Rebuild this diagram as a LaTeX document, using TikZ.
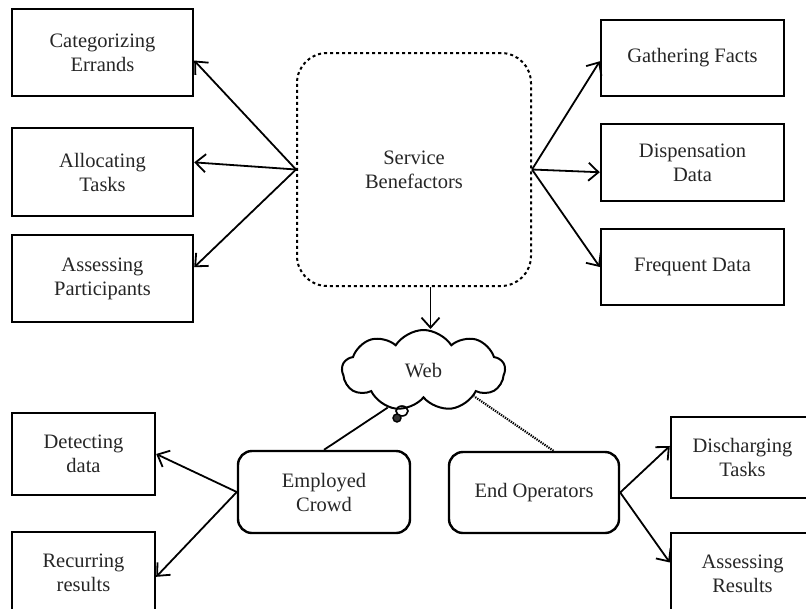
\documentclass[tikz,border=0pt]{standalone}
\usepackage{fontspec}
\setmainfont{Liberation Serif}
\usetikzlibrary{shapes.symbols,arrows.meta}
\tikzset{
  lbl/.style={font=\fontsize{20.5}{24}\selectfont, text=black!85, align=center},
  box/.style={lbl, draw, line width=2.4pt, inner sep=0pt},
  rbox/.style={box, rounded corners=14pt},
  arr/.style={-{Straight Barb[length=10pt,width=18pt]}, line width=1.8pt},
  link/.style={line width=1.8pt}
}
\begin{document}
\begin{tikzpicture}[x=1pt, y=-1pt]
\useasboundingbox (0,0) rectangle (806,608);
\clip (0,0) rectangle (806,608);
% left column
\node[box, minimum width=181pt, minimum height=87pt] (cat) at (102.5,52.5) {Categorizing\\Errands};
\node[box, minimum width=181pt, minimum height=88pt] (alloc) at (102.5,172) {Allocating\\Tasks};
\node[box, minimum width=181pt, minimum height=87pt] (assessp) at (102.5,278.5) {Assessing\\Participants};
% right column
\node[box, minimum width=183pt, minimum height=76pt] (gather) at (692.5,58) {Gathering Facts};
\node[box, minimum width=183pt, minimum height=77pt] (disp) at (692.5,162.5) {Dispensation\\Data};
\node[box, minimum width=183pt, minimum height=76pt] (freq) at (692.5,267) {Frequent Data};
% centre
\node[box, dashed, line width=2pt, rounded corners=30pt, minimum width=234pt, minimum height=233pt] (serv) at (414,169.5) {Service\\Benefactors};
\node[lbl, cloud, draw, line width=2pt, cloud puffs=9, cloud puff arc=115, aspect=2, minimum width=163pt, minimum height=81pt, inner sep=0pt] (web) at (423.5,370.5) {Web};
% lower row
\node[rbox, minimum width=172pt, minimum height=82pt] (crowd) at (324,492) {Employed\\Crowd};
\node[rbox, minimum width=170pt, minimum height=81pt] (endop) at (534,492.5) {End Operators};
\node[box, minimum width=143pt, minimum height=82pt] (detect) at (83.5,454) {Detecting\\data};
\node[box, minimum width=143pt, minimum height=82pt] (recur) at (83.5,573) {Recurring\\results};
\node[box, minimum width=143pt, minimum height=81pt] (disch) at (742.5,457.5) {Discharging\\Tasks};
\node[box, minimum width=143pt, minimum height=82pt] (assessr) at (742.5,574) {Assessing\\Results};
% thought bubble
\draw[line width=1.6pt] (402,411) ellipse (6pt and 5pt);
\draw[line width=1.4pt, fill=black!80] (397,418) circle (4pt);
% connectors
\draw[arr] (serv.west) -- (cat.-5);
\draw[arr] (serv.west) -- (alloc.6);
\draw[arr] (serv.west) -- (assessp.7);
\draw[arr] (serv.east) -- (gather.182);
\draw[arr] (serv.east) -- (disp.186);
\draw[arr] (serv.east) -- (freq.west);
\draw[arr] (serv.-82) -- (serv.-82 |- web.north);
\draw[link] (crowd.north) -- (web.226);
\draw[link, line width=2.2pt, dash pattern=on 1.3pt off 1.1pt] (endop.65) -- (web.-27);
\draw[arr] (crowd.west) -- (detect.east);
\draw[arr] (crowd.west) -- (recur.-3);
\draw[arr] (endop.east) -- (disch.171);
\draw[arr] (endop.east) -- (assessr.171);
\end{tikzpicture}
\end{document}
